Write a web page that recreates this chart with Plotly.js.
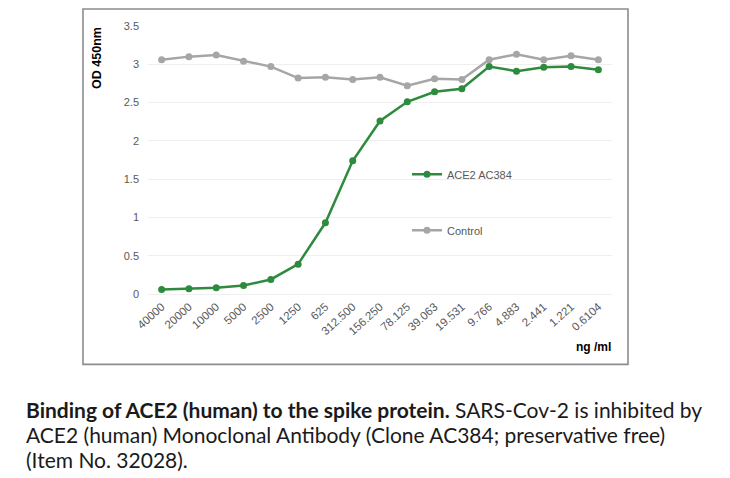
<!DOCTYPE html>
<html>
<head>
<meta charset="utf-8">
<script src="https://cdn.plot.ly/plotly-3.0.1.min.js"></script>
<style>html,body{margin:0;padding:0;background:#fff;}#chart{width:730px;height:478px;}</style>
</head>
<body>
<div id="chart"></div>
<script>
const concentrations = ["40000","20000","10000","5000","2500","1250","625","312.500","156.250","78.125","39.063","19.531","9.766","4.883","2.441","1.221","0.6104"];
const ace2Values = [0.06,0.07,0.08,0.11,0.19,0.39,0.93,1.74,2.26,2.51,2.64,2.68,2.97,2.91,2.96,2.97,2.93];
const controlValues = [3.06,3.10,3.12,3.04,2.97,2.82,2.83,2.80,2.83,2.72,2.81,2.80,3.06,3.13,3.06,3.11,3.06];
const yTicks = [0,0.5,1,1.5,2,2.5,3,3.5];
const captionLines = [
  '<b>Binding of ACE2 (human) to the spike protein.</b> SARS-Cov-2 is inhibited by',
  'ACE2 (human) Monoclonal Antibody (Clone AC384; preservative free)',
  '(Item No. 32028).'
];

const L = 148, R = 612, T = 26, B = 294.5;
const W = R - L, H = B - T;
const px = x => (x - L) / W;
const py = y => (B - y) / H;

const traces = [
  {
    x: concentrations, y: controlValues, name: 'Control', type: 'scatter', mode: 'lines+markers',
    line: {color: '#A6A6A6', width: 2.5}, marker: {color: '#A6A6A6', size: 7},
    legendgroup: 'c', legendrank: 2
  },
  {
    x: concentrations, y: ace2Values, name: 'ACE2 AC384', type: 'scatter', mode: 'lines+markers',
    line: {color: '#2E8B3E', width: 2.5}, marker: {color: '#2E8B3E', size: 7},
    legendgroup: 'a', legendrank: 1
  }
];

const baseFont = 'Liberation Sans, Arial, sans-serif';
const tickFont = {family: baseFont, size: 11, color: '#595959'};

const annotations = [
  {text: '<b>OD 450nm</b>', xref: 'paper', yref: 'paper', x: px(97), y: py(58), textangle: -90,
   xanchor: 'center', yanchor: 'middle',
   showarrow: false, font: {family: baseFont, size: 12.5, color: '#000'}},
  {text: '<b>ng /ml</b>', xref: 'paper', yref: 'paper', x: px(613), y: py(348), xanchor: 'right', yanchor: 'middle',
   showarrow: false, font: {family: baseFont, size: 12, color: '#000'}}
];
captionLines.forEach((t, i) => {
  annotations.push({text: t, xref: 'paper', yref: 'paper', x: px(24), y: py(410 + 25 * i),
    xanchor: 'left', yanchor: 'middle', align: 'left', showarrow: false,
    font: {family: 'Lato, sans-serif', size: 21, color: '#1a1a1a'}});
});

const layout = {
  width: 730, height: 478,
  margin: {l: L, r: 730 - R, t: T, b: 478 - B, pad: 0},
  paper_bgcolor: '#fff', plot_bgcolor: '#fff',
  showlegend: true,
  legend: {
    x: px(407), y: py(160), xanchor: 'left', yanchor: 'top',
    font: {family: baseFont, size: 11, color: '#595959'},
    tracegroupgap: 37, bgcolor: 'rgba(0,0,0,0)', itemwidth: 30
  },
  xaxis: {
    type: 'category', range: [-0.5, 16.5], tickangle: -42, automargin: false,
    tickfont: {family: baseFont, size: 11.5, color: '#595959'}, ticklabelstandoff: 3,
    showgrid: false, showline: false, zeroline: false, ticks: '', fixedrange: true
  },
  yaxis: {
    range: [0, 3.5], tickvals: yTicks, ticktext: yTicks.map(String), automargin: false,
    tickfont: tickFont, ticklabelstandoff: 8,
    showgrid: true, gridcolor: '#EFEFEF', gridwidth: 1, zeroline: true, zerolinecolor: '#EFEFEF',
    showline: false, ticks: '', fixedrange: true
  },
  shapes: [
    {type: 'rect', xref: 'paper', yref: 'paper', x0: px(83), x1: px(628), y0: py(365), y1: py(9),
     line: {color: '#8C8C8C', width: 1.6}, fillcolor: 'rgba(0,0,0,0)', layer: 'below'}
  ],
  annotations: annotations
};

Plotly.newPlot('chart', traces, layout, {displayModeBar: false, staticPlot: true});
</script>
</body>
</html>
